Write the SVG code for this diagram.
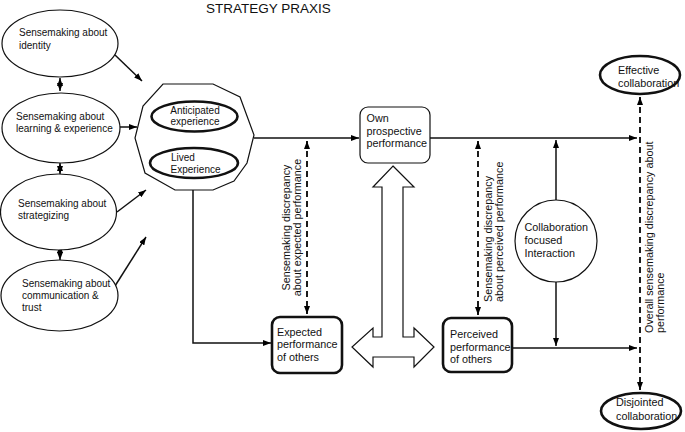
<svg xmlns="http://www.w3.org/2000/svg" width="685" height="432" viewBox="0 0 685 432">
<defs>
<marker id="ah" viewBox="0 0 8 6" refX="8" refY="3" markerWidth="8" markerHeight="6" markerUnits="userSpaceOnUse" orient="auto-start-reverse">
<path d="M0,0 L8,3 L0,6 z" fill="#000"/>
</marker>
<style>
text{font-family:"Liberation Sans",Arial,Helvetica,sans-serif;fill:#111}
.s{font-size:10px}
.m{font-size:10.8px}
.t{font-size:13.5px}
.thin{fill:#fff;stroke:#111;stroke-width:1.2}
.thick{fill:#fff;stroke:#111;stroke-width:2.6}
.c{fill:none;stroke:#111;stroke-width:1.5}
.d{fill:none;stroke:#111;stroke-width:1.9;stroke-dasharray:6 4}
</style>
</defs>
<rect width="685" height="432" fill="#fff"/>
<text class="t" x="206" y="13">STRATEGY PRAXIS</text>

<g id="connectors">
<line class="c" x1="60" y1="78" x2="60" y2="91" marker-start="url(#ah)" marker-end="url(#ah)"/>
<line class="c" x1="60" y1="163" x2="60" y2="174" marker-start="url(#ah)" marker-end="url(#ah)"/>
<line class="c" x1="60" y1="245" x2="60" y2="260" marker-start="url(#ah)" marker-end="url(#ah)"/>
<line class="c" x1="115" y1="55" x2="142" y2="81" marker-end="url(#ah)"/>
<line class="c" x1="120" y1="127" x2="137" y2="127" marker-end="url(#ah)"/>
<line class="c" x1="117" y1="212" x2="146" y2="190" marker-end="url(#ah)"/>
<line class="c" x1="115" y1="286" x2="146" y2="237" marker-end="url(#ah)"/>
<line class="c" x1="254" y1="138" x2="359" y2="138" marker-end="url(#ah)"/>
<polyline class="c" points="193,190 193,343 271,343" marker-end="url(#ah)"/>
<line class="c" x1="430" y1="138" x2="637" y2="138" marker-end="url(#ah)"/>
<line class="c" x1="512" y1="348" x2="637" y2="348" marker-end="url(#ah)"/>
<line class="c" x1="556" y1="200" x2="556" y2="140" marker-end="url(#ah)"/>
<line class="c" x1="556" y1="282" x2="556" y2="346" marker-end="url(#ah)"/>
<line class="d" x1="307" y1="141" x2="307" y2="314" marker-start="url(#ah)" marker-end="url(#ah)"/>
<line class="d" x1="478" y1="141" x2="478" y2="315" marker-start="url(#ah)" marker-end="url(#ah)"/>
<line class="d" x1="640" y1="97" x2="640" y2="390" marker-start="url(#ah)" marker-end="url(#ah)"/>
<path class="thin" d="M393,166 L414,187 L403,187 L403,337 L414,337 L414,328 L434,347 L414,367 L414,357 L373,357 L373,367 L352,347 L373,328 L373,337 L382,337 L382,187 L373,187 Z"/>
<text class="m" transform="translate(289.5,227.5) rotate(-90)" text-anchor="middle">Sensemaking discrepancy</text>
<text class="m" transform="translate(301,227.5) rotate(-90)" text-anchor="middle">about expected performance</text>
<text class="m" transform="translate(491.5,302) rotate(-90)">Sensemaking discrepancy</text>
<text class="m" transform="translate(502.5,302) rotate(-90)">about perceived performance</text>
<text class="m" transform="translate(652.5,333) rotate(-90)">Overall sensemaking discrepancy about</text>
<text class="m" transform="translate(664,333) rotate(-90)">performance</text>
</g>

<g id="identity">
<ellipse class="thin" cx="60" cy="43.5" rx="58" ry="33.5"/>
<text class="s" x="19" y="36">Sensemaking about</text>
<text class="s" x="19" y="48.5">identity</text>
</g>
<g id="learning">
<ellipse class="thin" cx="61" cy="128" rx="59" ry="35"/>
<text class="s" x="16" y="120">Sensemaking about</text>
<text class="s" x="16" y="132">learning &amp; experience</text>
</g>
<g id="strategizing">
<ellipse class="thin" cx="58.5" cy="212" rx="58" ry="38"/>
<text class="s" x="18" y="207">Sensemaking about</text>
<text class="s" x="18" y="219">strategizing</text>
</g>
<g id="communication">
<ellipse class="thin" cx="59.5" cy="295.5" rx="58.5" ry="35.5"/>
<text class="s" x="22" y="286.5">Sensemaking about</text>
<text class="s" x="22" y="299">communication &amp;</text>
<text class="s" x="22" y="311">trust</text>
</g>

<g id="experience">
<polygon class="thin" points="163,84 213,84 240,97 254,135 247,163 234,181 213,190 175,190 145,173 135,138 143,106"/>
<g id="anticipated">
<ellipse class="thick" cx="194.5" cy="116.5" rx="43" ry="15"/>
<text class="s" x="195" y="113.5" text-anchor="middle">Anticipated</text>
<text class="s" x="195" y="125" text-anchor="middle">experience</text>
</g>
<g id="lived">
<ellipse class="thick" cx="194" cy="163" rx="44" ry="15"/>
<text class="s" x="171" y="160.5">Lived</text>
<text class="s" x="170.5" y="172.5">Experience</text>
</g>
</g>

<g id="own">
<rect class="thin" x="360" y="107" width="70" height="56" rx="8"/>
<text class="m" x="366.5" y="122">Own</text>
<text class="m" x="366.5" y="134.5">prospective</text>
<text class="m" x="366.5" y="147">performance</text>
</g>
<g id="expected">
<rect class="thick" x="272" y="317" width="70" height="56" rx="8"/>
<text class="m" x="277" y="335.5">Expected</text>
<text class="m" x="277" y="348">performance</text>
<text class="m" x="277" y="360.5">of others</text>
</g>
<g id="perceived">
<rect class="thick" x="443" y="318" width="69" height="54" rx="8"/>
<text class="m" x="450" y="337.5">Perceived</text>
<text class="m" x="450" y="350.5">performance</text>
<text class="m" x="450" y="363">of others</text>
</g>
<g id="interaction">
<circle class="thin" cx="556" cy="241" r="41"/>
<text class="m" x="524.5" y="230.5">Collaboration</text>
<text class="m" x="524.5" y="243.5">focused</text>
<text class="m" x="524.5" y="256.5">Interaction</text>
</g>
<g id="effective">
<ellipse class="thick" cx="640" cy="75" rx="40" ry="19"/>
<text class="m" x="618" y="73.5">Effective</text>
<text class="m" x="618" y="87">collaboration</text>
</g>
<g id="disjointed">
<ellipse class="thick" cx="641" cy="411" rx="40" ry="18"/>
<text class="m" x="616" y="406">Disjointed</text>
<text class="m" x="616" y="420">collaboration</text>
</g>
</svg>
